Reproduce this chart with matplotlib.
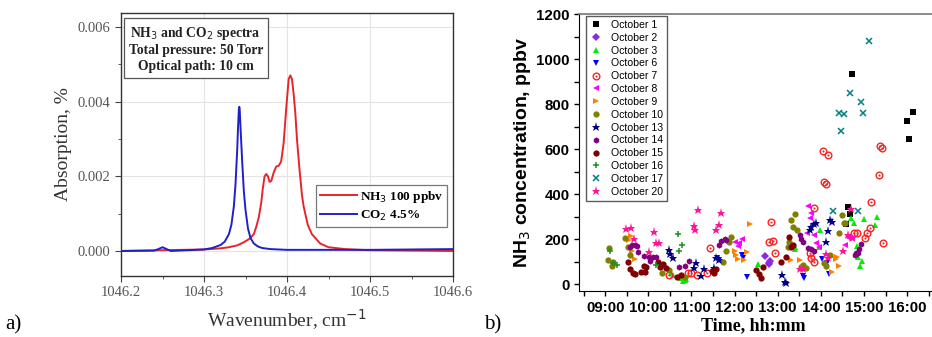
import numpy as np
import matplotlib
matplotlib.use('Agg')
import matplotlib.pyplot as plt
from matplotlib.ticker import MultipleLocator, FuncFormatter

# ---- panel a: spectra ----
wn_nh3 = [1046.20, 1046.25, 1046.30, 1046.32, 1046.33, 1046.34, 1046.345, 1046.35,
          1046.355, 1046.36, 1046.363, 1046.366, 1046.369, 1046.371, 1046.373,
          1046.375, 1046.377, 1046.379, 1046.381, 1046.384, 1046.387, 1046.390,
          1046.393, 1046.396, 1046.399, 1046.402, 1046.404, 1046.406, 1046.408,
          1046.410, 1046.412, 1046.415, 1046.418, 1046.420, 1046.425, 1046.430,
          1046.440, 1046.450, 1046.470, 1046.500, 1046.600]
abs_nh3 = [0.0, 0.00002, 0.00004, 0.00007, 0.0001, 0.00015, 0.0002, 0.00026,
           0.00033, 0.00045, 0.00065, 0.0009, 0.0013, 0.0017, 0.0020,
           0.00206, 0.0020, 0.00185, 0.00187, 0.0021, 0.00226, 0.00228,
           0.0024, 0.0029, 0.0038, 0.0046, 0.0047, 0.0046, 0.0042,
           0.0037, 0.0030, 0.0022, 0.0015, 0.0012, 0.0007, 0.00045,
           0.0002, 0.0001, 0.00005, 0.00002, 0.0]

wn_co2 = [1046.20, 1046.24, 1046.245, 1046.25, 1046.255, 1046.26, 1046.30, 1046.31,
          1046.32, 1046.325, 1046.33, 1046.333, 1046.336, 1046.338, 1046.340,
          1046.341, 1046.342, 1046.3425, 1046.343, 1046.344, 1046.346, 1046.348,
          1046.350, 1046.353, 1046.356, 1046.360, 1046.365, 1046.370, 1046.380,
          1046.400, 1046.500, 1046.600]
abs_co2 = [0.0, 0.00001, 0.00005, 0.0001, 0.00005, 0.0, 0.00004, 0.00008,
           0.00016, 0.00025, 0.00045, 0.0007, 0.0012, 0.0018, 0.0027,
           0.0033, 0.0038, 0.00386, 0.0038, 0.0033, 0.0024, 0.0016,
           0.0011, 0.0006, 0.00035, 0.0002, 0.00012, 0.00008, 0.00005,
           0.00003, 0.00003, 0.00005]

# ---- panel b: NH3 concentration (time in decimal hours, ppbv) ----
oct1_t = [14.72, 14.63, 14.68, 14.58, 16.00, 16.04, 16.13]
oct1_c = [935, 343, 310, 265, 724, 644, 763]
oct2_t = [12.70, 12.80, 12.83, 12.79]
oct2_c = [123, 92, 101, 88]
oct3_t = [10.57, 10.52, 10.76, 10.80, 10.84, 10.88, 12.55, 13.39, 13.41, 13.95, 13.97,
          14.70, 14.77, 15.00, 15.30, 15.26, 14.83, 14.87, 14.96, 14.91]
oct3_c = [40, 50, 28, 13, 18, 21, 90, 154, 163, 166, 238,
          295, 272, 287, 299, 262, 169, 121, 102, 80]
oct6_t = [11.60, 11.63, 12.16, 12.19, 12.28, 13.62, 13.58, 14.15, 14.12, 14.19, 14.03]
oct6_c = [117, 107, 129, 114, 30, 25, 36, 92, 77, 43, 110]
oct7_t = [14.04, 14.16, 14.08, 14.12, 15.36, 15.41, 15.34, 15.17, 15.45, 13.85,
          15.14, 15.07, 15.02, 14.83, 14.76, 12.85, 12.80, 12.89, 12.93, 11.43,
          10.48, 10.91, 10.98, 11.13, 11.36, 13.78, 13.75, 13.83]
oct7_c = [593, 573, 452, 443, 615, 606, 483, 363, 181, 338,
          248, 225, 206, 225, 225, 276, 185, 191, 139, 161,
          39, 47, 50, 39, 50, 117, 136, 96]
oct8_t = [12.00, 12.10, 12.16, 12.08, 13.71, 13.77, 13.74, 13.68, 13.85, 13.89, 13.95,
          14.62, 14.66, 14.72, 14.56]
oct8_c = [185, 184, 200, 170, 348, 314, 292, 225, 218, 184, 166,
          210, 203, 203, 173]
oct9_t = [9.59, 9.56, 9.62, 9.68, 12.00, 12.03, 12.09, 12.21, 12.29, 12.35, 13.31,
          13.51, 14.34, 14.38, 14.26, 14.43]
oct9_c = [215, 196, 148, 113, 148, 129, 110, 107, 141, 265, 108,
          107, 110, 121, 55, 80]
oct10_t = [9.06, 9.10, 9.15, 9.18, 9.47, 9.54, 9.58, 10.32, 10.48, 10.84, 11.73, 11.79,
           11.87, 11.92, 13.26, 13.31, 13.36, 13.40, 13.44, 13.24, 13.54, 13.58, 13.66,
           14.07, 14.12, 14.20, 14.43, 14.49, 14.53, 14.57]
oct10_c = [107, 159, 81, 99, 206, 166, 129, 50, 62, 33, 99, 148,
           188, 207, 188, 284, 255, 311, 240, 163, 77, 84, 70,
           92, 81, 127, 225, 307, 270, 270]
oct13_t = [10.47, 10.51, 10.57, 11.06, 11.11, 11.23, 11.29, 11.52, 11.57, 11.65, 13.09,
           13.16, 13.20, 13.74, 13.83, 13.89, 13.78, 14.16, 14.20, 14.25, 14.12]
oct13_c = [151, 133, 117, 70, 92, 36, 65, 70, 114, 107, 40,
           10, 6, 240, 265, 273, 252, 234, 284, 277, 185]
oct14_t = [9.58, 9.63, 9.68, 9.73, 9.77, 9.91, 10.01, 10.11, 10.17, 10.05, 10.94, 10.71,
           10.84, 11.63, 11.69, 11.77, 11.81, 13.53, 13.58, 13.70, 13.78, 13.84, 13.51,
           14.92, 14.86, 14.82, 14.78, 14.89]
oct14_c = [166, 173, 173, 169, 141, 126, 121, 118, 121, 101, 104, 77,
           80, 173, 193, 200, 196, 199, 185, 159, 154, 148, 218,
           176, 136, 136, 129, 154]
oct15_t = [9.54, 9.58, 9.64, 9.68, 9.83, 9.90, 9.95, 9.93, 10.22, 10.27, 10.34, 10.41,
           10.66, 10.76, 11.48, 11.53, 11.57, 12.50, 12.56, 12.62, 12.66, 13.08, 13.20,
           13.26, 13.31, 13.35]
oct15_c = [99, 65, 50, 44, 55, 80, 77, 52, 96, 77, 89, 73,
           30, 40, 59, 47, 65, 62, 44, 28, 77, 96, 121,
           207, 166, 173]
oct16_t = [9.12, 9.18, 9.28, 10.18, 10.68, 10.72, 10.78]
oct16_c = [148, 95, 84, 84, 221, 148, 173]
oct17_t = [15.11, 14.67, 14.92, 14.41, 14.54, 14.98, 14.47, 14.28, 14.87]
oct17_c = [1078, 847, 809, 758, 754, 760, 681, 323, 326]
oct20_t = [9.49, 9.59, 9.66, 10.01, 10.14, 10.18, 10.24, 11.05, 11.09, 11.15, 11.56,
           11.63, 11.69, 13.51, 13.58, 14.11, 14.16, 14.51, 14.63, 14.70, 14.73]
oct20_c = [243, 250, 199, 141, 230, 184, 184, 258, 240, 329, 240,
           262, 314, 65, 65, 132, 114, 148, 218, 333, 203]

series = [
    ('October 1', oct1_t, oct1_c, 's', 'black'),
    ('October 2', oct2_t, oct2_c, 'D', '#8a2be2'),
    ('October 3', oct3_t, oct3_c, '^', '#00ee00'),
    ('October 6', oct6_t, oct6_c, 'v', '#0000ff'),
    ('October 7', oct7_t, oct7_c, 'odot', '#ff2020'),
    ('October 8', oct8_t, oct8_c, '<', '#ff00ff'),
    ('October 9', oct9_t, oct9_c, '>', '#ff8000'),
    ('October 10', oct10_t, oct10_c, 'o', '#808000'),
    ('October 13', oct13_t, oct13_c, '*', '#000080'),
    ('October 14', oct14_t, oct14_c, 'h', '#800080'),
    ('October 15', oct15_t, oct15_c, 'o', '#800000'),
    ('October 16', oct16_t, oct16_c, '+', '#228b22'),
    ('October 17', oct17_t, oct17_c, 'x', '#008080'),
    ('October 20', oct20_t, oct20_c, '*', '#ff1493'),
]

fig = plt.figure(figsize=(9.32, 3.37), dpi=100)
serif = ['Liberation Serif', 'DejaVu Serif']
sans = ['Liberation Sans', 'DejaVu Sans']

# ---------------- panel a ----------------
ax1 = fig.add_axes([121/932, 1-276/337, 332/932, 263/337])
ax1.plot(wn_nh3, abs_nh3, color='#e8242b', lw=1.4, label='NH$_3$ 100 ppbv')
ax1.plot(wn_co2, abs_co2, color='#2020c8', lw=1.4, label='CO$_2$ 4.5%')
ax1.set_xlim(1046.2, 1046.6)
ax1.set_ylim(-0.00067, 0.00637)
ax1.xaxis.set_major_locator(MultipleLocator(0.1))
ax1.xaxis.set_minor_locator(MultipleLocator(0.05))
ax1.yaxis.set_major_locator(MultipleLocator(0.002))
ax1.yaxis.set_minor_locator(MultipleLocator(0.001))
ax1.xaxis.set_major_formatter(FuncFormatter(lambda v, p: '%.1f' % v))
ax1.yaxis.set_major_formatter(FuncFormatter(lambda v, p: '%.3f' % v))
ax1.grid(True, color='#e4e4e4', lw=0.8)
ax1.tick_params(which='both', direction='out', colors='#444444', labelcolor='#555555')
ax1.tick_params(which='major', length=4, labelsize=10.5)
ax1.tick_params(which='minor', length=2.5)
for lab in ax1.get_xticklabels() + ax1.get_yticklabels():
    lab.set_family(serif)
for s in ax1.spines.values():
    s.set_color('#333333')
    s.set_linewidth(1.0)
ax1.set_xlabel('Wavenumber, cm$^{-1}$', family=serif, fontsize=14, color='#333333', labelpad=6)
ax1.set_ylabel('Absorption, %', family=serif, fontsize=14, color='#333333', labelpad=4)
ax1.text(0.225, 0.955, 'NH$_3$ and CO$_2$ spectra\nTotal pressure: 50 Torr\nOptical path: 10 cm',
         transform=ax1.transAxes, ha='center', va='top', fontsize=9.8, fontweight='bold',
         family=serif, color='#222222', linespacing=1.25, multialignment='center',
         bbox=dict(boxstyle='square,pad=0.35', fc='white', ec='#555555', lw=0.9))
leg1 = ax1.legend(loc='upper right', bbox_to_anchor=(0.982, 0.346), borderaxespad=0,
                  frameon=True, fancybox=False, handlelength=2.8, borderpad=0.3,
                  labelspacing=0.3, handletextpad=0.2,
                  prop=dict(family=serif, size=9.5, weight='bold'))
leg1.get_frame().set_edgecolor('#555555')
leg1.get_frame().set_linewidth(0.9)
fig.text(5/932, 1-325/337, 'a)', family=serif, fontsize=15, va='center', ha='left')

# ---------------- panel b ----------------
ax2 = fig.add_axes([579.3/932, 1-291/337, 1-579.3/932, 277/337])
handles = []
labels = []
for lab, t, c, m, col in series:
    if m in ('+', 'x'):
        h, = ax2.plot(t, c, ls='none', marker=m, color=col, ms=5, mew=1.1)
    elif m == 'odot':
        h1, = ax2.plot(t, c, ls='none', marker='o', mfc='none', mec=col, ms=4.8, mew=1.0)
        h2, = ax2.plot(t, c, ls='none', marker='o', color=col, ms=1.5, mew=0)
        h = (h1, h2)
    elif m == '*':
        h, = ax2.plot(t, c, ls='none', marker=m, color=col, ms=6.5, mew=0)
    else:
        h, = ax2.plot(t, c, ls='none', marker=m, color=col, ms=4.5, mew=0)
    handles.append(h)
    labels.append(lab)
ax2.set_xlim(8.40, 16.576)
ax2.set_ylim(-31, 1200)
ax2.xaxis.set_major_locator(MultipleLocator(1))
ax2.xaxis.set_minor_locator(MultipleLocator(0.5))
ax2.yaxis.set_major_locator(MultipleLocator(200))
ax2.yaxis.set_minor_locator(MultipleLocator(100))
ax2.xaxis.set_major_formatter(FuncFormatter(lambda v, p: '%02d:00' % int(round(v))))
ax2.tick_params(which='both', direction='out', length=3.5, width=1.0)
ax2.tick_params(labelsize=10.8)
for lab in ax2.get_xticklabels() + ax2.get_yticklabels():
    lab.set_family(sans)
    lab.set_fontweight('bold')
ax2.spines['right'].set_visible(False)
ax2.spines['top'].set_color('#777777')
ax2.spines['top'].set_linewidth(1.2)
ax2.set_ylabel('NH$_3$ concentration, ppbv', family=sans, fontweight='bold', fontsize=14, labelpad=2)
fig.text(753/932, 1-326/337, 'Time, hh:mm', family=serif, fontweight='bold', fontsize=13,
         ha='center', va='center')
leg2 = ax2.legend(handles, labels, loc='upper left', bbox_to_anchor=(0.014, 1.0),
                  borderaxespad=0.2, frameon=True, fancybox=False,
                  borderpad=0.35, labelspacing=0.27, handletextpad=0.8, handlelength=1.2,
                  prop=dict(family=sans, size=7.6))
leg2.get_frame().set_edgecolor('#333333')
leg2.get_frame().set_linewidth(1.0)
fig.text(484/932, 1-325/337, 'b)', family=serif, fontsize=15, va='center', ha='left')

fig.savefig('out.png', dpi=100)
